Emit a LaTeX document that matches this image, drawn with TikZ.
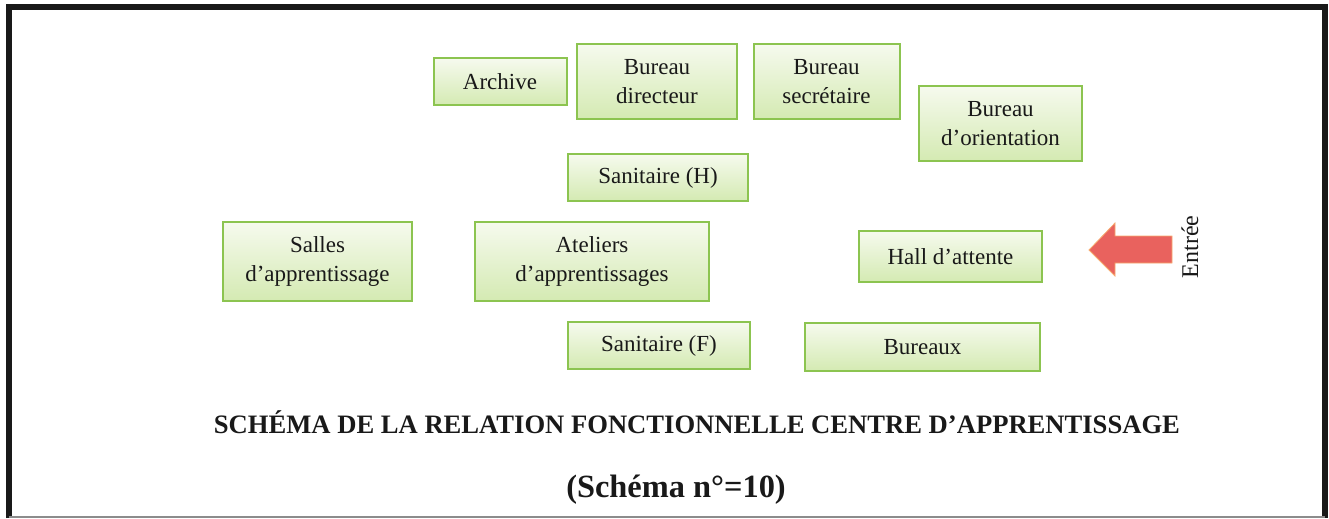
\documentclass[tikz,border=0pt]{standalone}
\usepackage{fontspec}
\setmainfont{Liberation Serif}
\definecolor{boxedge}{RGB}{140,196,80}
\definecolor{boxtop}{RGB}{246,250,238}
\definecolor{boxbot}{RGB}{212,234,178}
\definecolor{arrowred}{RGB}{233,98,94}
\definecolor{arrowedge}{RGB}{246,170,110}
\definecolor{txt}{RGB}{25,25,25}
\begin{document}
\begin{tikzpicture}[x=0.5pt,y=-0.5pt,
  room/.style={draw=boxedge,line width=1pt,top color=boxtop,bottom color=boxbot,
    inner sep=0pt,align=center,text=txt,font=\fontsize{11.5}{14.5}\selectfont},
  titletext/.style={font=\bfseries\fontsize{13.3}{16}\selectfont,text=txt,anchor=base},
]
\useasboundingbox (0,0) rectangle (1329,519);
% frame
\draw[line width=3pt,black!90] (9,518) -- (9,7) -- (1325,7) -- (1325,518);
\draw[line width=0.8pt,black!45] (9,517) -- (1325,517);
% rooms
\node[room,minimum width=66.5pt,minimum height=23.5pt] (archive) at (500,82) {Archive};
\node[room,minimum width=80pt,minimum height=37.5pt] (directeur) at (657,81.5) {Bureau\\directeur};
\node[room,minimum width=73pt,minimum height=37.5pt] (secretaire) at (826.5,81.5) {Bureau\\secrétaire};
\node[room,minimum width=81.5pt,minimum height=37.5pt] (orientation) at (1000.5,123.5) {Bureau\\d’orientation};
\node[room,minimum width=90pt,minimum height=23.5pt] (sanh) at (658,177.5) {Sanitaire (H)};
\node[room,minimum width=94.5pt,minimum height=39.5pt] (salles) at (317.5,261.5) {Salles\\d’apprentissage};
\node[room,minimum width=117pt,minimum height=39.5pt] (ateliers) at (592,261.5) {Ateliers\\d’apprentissages};
\node[room,minimum width=91.5pt,minimum height=25.5pt] (hall) at (950.5,256.5) {Hall d’attente};
\node[room,minimum width=91pt,minimum height=23.5pt] (sanf) at (659,345.5) {Sanitaire (F)};
\node[room,minimum width=117.5pt,minimum height=24pt] (bureaux) at (922.5,347) {Bureaux};
% entry arrow
\coordinate (tip) at (1089,250);
\fill[arrowred,draw=arrowedge,line width=0.4pt]
  (tip) -- (1115,223) -- (1115,236) -- (1172,236) -- (1172,263) -- (1115,263) -- (1115,276) -- cycle;
\node[rotate=90,text=txt,font=\fontsize{12}{13}\selectfont,inner sep=0pt] (entree) at (1190,247) {Entrée};
% titles
\node[titletext] (title) at (697,433) {SCHÉMA DE LA RELATION FONCTIONNELLE CENTRE D’APPRENTISSAGE};
\node[titletext,font=\bfseries\fontsize{16.2}{19}\selectfont] (sub) at (676,497) {(Schéma n°=10)};
\end{tikzpicture}
\end{document}
